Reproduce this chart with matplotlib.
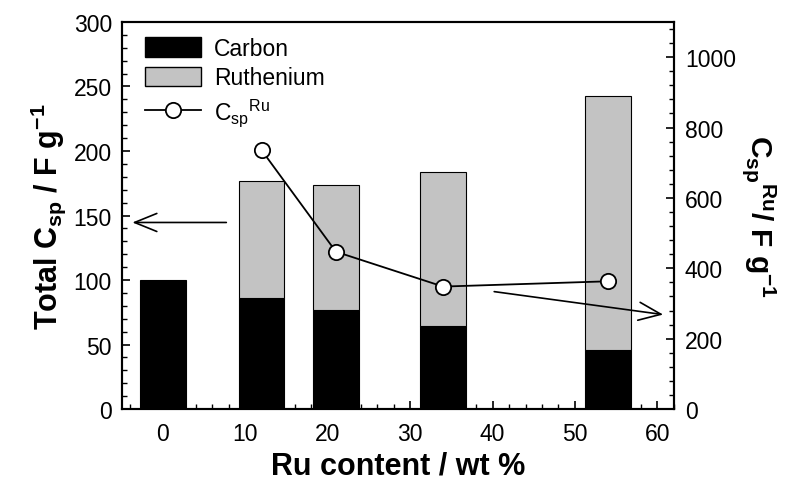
import matplotlib
matplotlib.use("Agg")
import matplotlib.pyplot as plt
from matplotlib.patches import Patch
from matplotlib.lines import Line2D
from matplotlib.ticker import MultipleLocator

plt.rcParams['font.family'] = ['Liberation Sans', 'DejaVu Sans']
plt.rcParams['mathtext.fontset'] = 'custom'
plt.rcParams['mathtext.rm'] = 'Liberation Sans'
plt.rcParams['mathtext.it'] = 'Liberation Sans:italic'
plt.rcParams['mathtext.bf'] = 'Liberation Sans:bold'

# Ru loading (wt %) and capacitance contributions (F/g)
ru_content = [0, 12, 21, 34, 54]
carbon_csp = [100, 86, 76.5, 64, 46]
ruthenium_csp = [0, 91, 97.5, 120, 197]

# Specific capacitance of the Ru phase (F/g), right axis
ru_points_x = [12, 21, 34, 54]
csp_ru = [735, 447, 348, 363]

fig = plt.figure(figsize=(7.9, 4.85), dpi=100)
ax = fig.add_axes([0.154, 0.1546, 0.699, 0.798])
ax2 = ax.twinx()

bar_w = 5.5
ax.bar(ru_content, carbon_csp, width=bar_w, color='black', edgecolor='black',
       linewidth=0.8, zorder=2)
ru_x = [x for x, r in zip(ru_content, ruthenium_csp) if r > 0]
ru_h = [r for r in ruthenium_csp if r > 0]
ru_b = [c for c, r in zip(carbon_csp, ruthenium_csp) if r > 0]
ax.bar(ru_x, ru_h, bottom=ru_b, width=bar_w, color='#c3c3c3', edgecolor='black',
       linewidth=0.8, zorder=2)

ax2.plot(ru_points_x, csp_ru, color='black', lw=1.3, marker='o', ms=11,
         mfc='white', mec='black', mew=1.3, zorder=3)

ax.set_xlim(-5, 62)
ax.set_ylim(0, 300)
ax2.set_ylim(0, 1100)

ax.xaxis.set_major_locator(MultipleLocator(10))
ax.xaxis.set_minor_locator(MultipleLocator(2))
ax.yaxis.set_major_locator(MultipleLocator(50))
ax.yaxis.set_minor_locator(MultipleLocator(10))
ax2.yaxis.set_major_locator(MultipleLocator(200))
ax2.yaxis.set_minor_locator(MultipleLocator(40))

ax.tick_params(axis='both', which='both', direction='in', labelsize=16.5,
               top=False, right=False)
ax.tick_params(which='major', length=6, width=1.2)
ax.tick_params(which='minor', length=3.5, width=1.0)
ax.tick_params(axis='x', pad=9)
ax.tick_params(axis='y', pad=7)
ax2.tick_params(axis='y', which='both', direction='in', labelsize=16.5)
ax2.tick_params(which='major', length=6, width=1.2, pad=8)
ax2.tick_params(which='minor', length=3.5, width=1.0)

for a in (ax, ax2):
    for s in a.spines.values():
        s.set_linewidth(1.5)

ax.set_xlabel('Ru content / wt %', fontsize=22, fontweight='bold', labelpad=4)
ax.set_ylabel(r'Total C$_{\mathbf{sp}}$ / F g$^{\mathbf{-1}}$', fontsize=22,
              fontweight='bold', labelpad=4)
ax2.set_ylabel(r'$\mathbf{C_{sp}{}^{Ru}}$/ F g$^{\mathbf{-1}}$', fontsize=21.5,
               fontweight='bold', rotation=270, labelpad=30)

# Arrows pointing to the relevant axes
arrow_kw = dict(arrowstyle='->,head_length=16,head_width=6.5', mutation_scale=1,
                color='black', lw=1.2, shrinkA=0, shrinkB=0)
ax.annotate('', xy=(-3.7, 144.6), xytext=(7.7, 144.6), arrowprops=arrow_kw)
ax.annotate('', xy=(60.7, 73.2), xytext=(40.2, 91.0), arrowprops=arrow_kw)

handles = [
    Patch(facecolor='black', edgecolor='black', label='Carbon'),
    Patch(facecolor='#c3c3c3', edgecolor='black', label='Ruthenium'),
    Line2D([], [], color='black', lw=1.3, marker='o', ms=11, mfc='white',
           mec='black', mew=1.3, label=r'C$_{\rm sp}{}^{\rm Ru}$'),
]
ax2.legend(handles=handles, loc='upper left', bbox_to_anchor=(0.02, 0.995),
           frameon=False, fontsize=16.5, handlelength=2.45, handleheight=0.95,
           handletextpad=0.55, labelspacing=0.3, borderaxespad=0.15,
           borderpad=0.4)

fig.savefig('out.png', dpi=100)
